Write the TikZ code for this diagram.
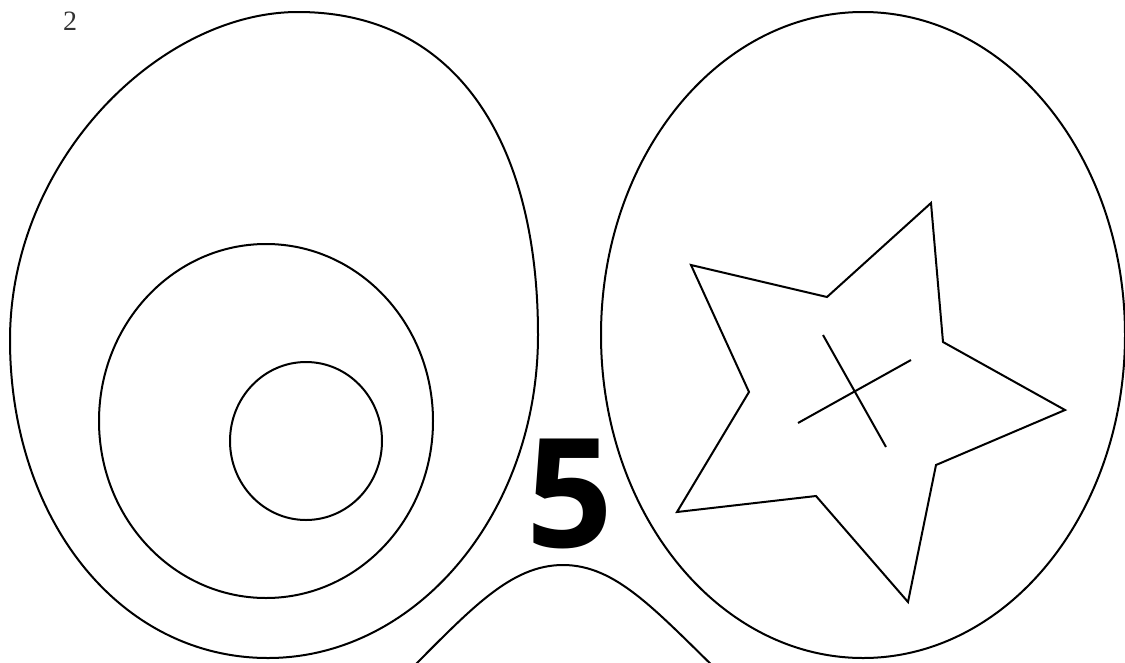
\documentclass[tikz,border=0pt]{standalone}
\usepackage{fontspec}
\setmainfont{Liberation Serif}
\newfontfamily\digitfont{Open Sans}
\usepackage{tikz}
\usetikzlibrary{positioning}

\begin{document}
\begin{tikzpicture}[
        x=1pt, y=-1pt,
        outline/.style={draw, line width=2pt},
        pagenum/.style={font=\fontsize{28}{28}\selectfont, text=black!80, inner sep=0pt},
        bignum/.style={font=\digitfont\bfseries\fontsize{152}{152}\selectfont, inner sep=0pt}
    ]
    \useasboundingbox (0,0) rectangle (1125,662);
    \clip (0,0) rectangle (1125,662);

    % Numero da pagina
    \node[pagenum] (page) at (70,21) {2};

    % Forma da esquerda com os dois circulos
    \draw[outline] (298,12) .. controls (455,12) and (538,140) .. (538,335)
        .. controls (538,515) and (415,658) .. (268,658)
        .. controls (120,658) and (10,520) .. (10,340)
        .. controls (10,160) and (160,12) .. (298,12) -- cycle;
    \draw[outline] (266,421) ellipse [x radius=167, y radius=177];
    \draw[outline] (306,441) ellipse [x radius=76, y radius=79];

    % Forma da direita com a estrela
    \draw[outline] (863,335) ellipse [x radius=262, y radius=323];
    \draw[outline, line join=miter] (691,265) -- (827,297) -- (931,203) -- (943,342) -- (1065,410)
        -- (936,465) -- (908,602) -- (816,496) -- (677,512) -- (749,392) -- cycle;
    \draw[outline] (823,335) -- (886,447);
    \draw[outline] (798,423) -- (911,360);

    % Numero grande e curva de baixo
    \node[bignum] (five) at (570,494) {5};
    \draw[outline] (405,675) .. controls (470,610) and (510,565) .. (563,565)
        .. controls (616,565) and (655,610) .. (722,675);

\end{tikzpicture}
\end{document}
